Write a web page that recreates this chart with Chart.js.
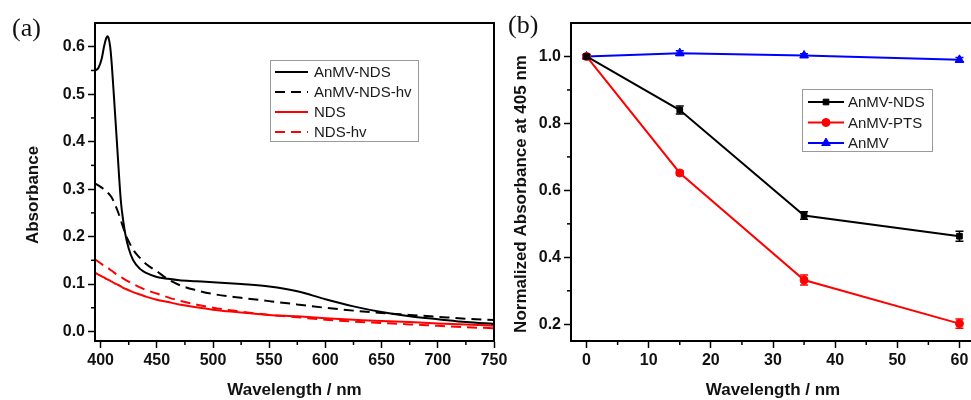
<!DOCTYPE html>
<html>
<head>
<meta charset="utf-8">
<script src="https://cdn.jsdelivr.net/npm/chart.js@4.4.0/dist/chart.umd.min.js"></script>
<style>
  html, body { margin: 0; padding: 0; background: #fff; width: 971px; height: 400px; overflow: hidden; }
  .painel { position: absolute; top: 0; height: 400px; }
  #painelA { left: 0; width: 520px; }
  #painelB { left: 490px; width: 510px; }
  .rotulo { position: absolute; font-family: "Liberation Serif", "Times New Roman", serif; font-size: 26px; color: #111; line-height: 1; }
</style>
</head>
<body>
<div class="painel" id="painelA"><canvas id="graficoA" width="520" height="400"></canvas></div>
<div class="painel" id="painelB"><canvas id="graficoB" width="510" height="400"></canvas></div>
<div class="rotulo" style="left:12px; top:15px">(a)</div>
<div class="rotulo" style="left:508px; top:12px">(b)</div>

<script>
// ---- painel (a): espectros ----
const comprimentoOnda = [395, 398, 401, 403, 405, 406, 407, 408.5, 410, 412, 415, 418, 420, 422, 425, 429, 435, 441, 450, 460, 470, 485, 500, 525, 550, 575, 600, 625, 650, 675, 700, 725, 750];
const absAnmvNds   = [0.550, 0.555, 0.575, 0.600, 0.618, 0.622, 0.619, 0.600, 0.560, 0.490, 0.380, 0.275, 0.235, 0.205, 0.175, 0.150, 0.132, 0.123, 0.115, 0.111, 0.108, 0.106, 0.104, 0.100, 0.095, 0.085, 0.068, 0.053, 0.041, 0.032, 0.026, 0.020, 0.016];
const absAnmvNdsHv = [0.312, 0.308, 0.303, 0.300, 0.296, 0.294, 0.291, 0.287, 0.282, 0.272, 0.255, 0.234, 0.220, 0.206, 0.190, 0.172, 0.155, 0.141, 0.127, 0.110, 0.098, 0.087, 0.079, 0.071, 0.064, 0.057, 0.050, 0.044, 0.039, 0.035, 0.031, 0.027, 0.024];
const absNds       = [0.124, 0.120, 0.116, 0.114, 0.111, 0.110, 0.109, 0.107, 0.105, 0.102, 0.099, 0.095, 0.092, 0.090, 0.087, 0.083, 0.078, 0.073, 0.067, 0.062, 0.057, 0.051, 0.046, 0.040, 0.035, 0.032, 0.028, 0.025, 0.022, 0.020, 0.017, 0.015, 0.012];
const absNdsHv     = [0.152, 0.147, 0.142, 0.139, 0.136, 0.134, 0.133, 0.130, 0.128, 0.124, 0.119, 0.115, 0.112, 0.109, 0.105, 0.100, 0.093, 0.087, 0.080, 0.072, 0.065, 0.057, 0.050, 0.042, 0.035, 0.030, 0.025, 0.021, 0.018, 0.015, 0.012, 0.009, 0.007];
const rotulosA = ["AnMV-NDS", "AnMV-NDS-hv", "NDS", "NDS-hv"];

// ---- painel (b): absorbância normalizada ----
const tempos = [0, 15, 35, 60];
const normAnmvNds = [1.0, 0.840, 0.525, 0.463];
const erroAnmvNds = [0.006, 0.012, 0.011, 0.015];
const normAnmvPts = [1.0, 0.652, 0.332, 0.202];
const erroAnmvPts = [0.006, 0.006, 0.015, 0.014];
const normAnmv    = [1.0, 1.010, 1.003, 0.990];
const erroAnmv    = [0.004, 0.007, 0.005, 0.007];
const rotulosB = ["AnMV-NDS", "AnMV-PTS", "AnMV"];

const fonteEixo = '"Liberation Sans", Arial, sans-serif';
const pares = (xs, ys) => xs.map((x, i) => ({ x, y: ys[i] }));

// moldura completa (estilo Origin)
const pluginMoldura = {
  id: 'moldura',
  afterDraw(chart) {
    const { ctx, chartArea: a } = chart;
    ctx.save();
    ctx.strokeStyle = '#000';
    ctx.lineWidth = 2;
    ctx.strokeRect(a.left, a.top, a.right - a.left, a.bottom - a.top);
    ctx.restore();
  }
};

// ticks menores entre os maiores
const pluginTicksMenores = {
  id: 'ticksMenores',
  afterDraw(chart, args, o) {
    const ctx = chart.ctx;
    ctx.save();
    ctx.strokeStyle = '#000';
    ctx.lineWidth = 1.5;
    ['x', 'y'].forEach(id => {
      const s = chart.scales[id];
      const t = s.ticks.map(k => k.value);
      for (let i = 0; i < t.length - 1; i++) {
        const p = s.getPixelForValue((t[i] + t[i + 1]) / 2);
        ctx.beginPath();
        if (id === 'x') { ctx.moveTo(p, s.top); ctx.lineTo(p, s.top + o.tamanho); }
        else { ctx.moveTo(s.right, p); ctx.lineTo(s.right - o.tamanho, p); }
        ctx.stroke();
      }
    });
    ctx.restore();
  }
};

// barras de erro
const pluginBarrasErro = {
  id: 'barrasErro',
  beforeDatasetsDraw(chart) {
    const { ctx, scales: { x, y } } = chart;
    chart.data.datasets.forEach(ds => {
      if (!ds.erros) return;
      ctx.save();
      ctx.strokeStyle = ds.borderColor;
      ctx.lineWidth = 1.5;
      ds.data.forEach((d, j) => {
        const px = x.getPixelForValue(d.x);
        const y0 = y.getPixelForValue(d.y - ds.erros[j]);
        const y1 = y.getPixelForValue(d.y + ds.erros[j]);
        ctx.beginPath();
        ctx.moveTo(px, y0); ctx.lineTo(px, y1);
        ctx.moveTo(px - 4, y0); ctx.lineTo(px + 4, y0);
        ctx.moveTo(px - 4, y1); ctx.lineTo(px + 4, y1);
        ctx.stroke();
      });
      ctx.restore();
    });
  }
};

// legenda dentro da área do gráfico
const pluginLegenda = {
  id: 'legendaInterna',
  afterDraw(chart, args, o) {
    const ctx = chart.ctx;
    ctx.save();
    ctx.fillStyle = '#fff';
    ctx.fillRect(o.x, o.y, o.w, o.h);
    ctx.strokeStyle = '#9a9a9a';
    ctx.lineWidth = 1;
    ctx.strokeRect(o.x + 0.5, o.y + 0.5, o.w, o.h);
    ctx.font = '15px ' + fonteEixo;
    ctx.textBaseline = 'middle';
    chart.data.datasets.forEach((ds, i) => {
      const yy = o.primeiraLinha + i * o.passo;
      ctx.strokeStyle = ds.borderColor;
      ctx.lineWidth = ds.borderWidth;
      ctx.setLineDash(ds.borderDash || []);
      ctx.beginPath();
      ctx.moveTo(o.linhaX0, yy);
      ctx.lineTo(o.linhaX1, yy);
      ctx.stroke();
      ctx.setLineDash([]);
      if (ds.pointRadius > 0) {
        ctx.fillStyle = ds.backgroundColor;
        ctx.lineWidth = 1;
        Chart.helpers.drawPoint(ctx, { pointStyle: ds.pointStyle, radius: ds.pointRadius, borderWidth: 1, rotation: 0 }, (o.linhaX0 + o.linhaX1) / 2, yy);
      }
      ctx.fillStyle = '#1a1a1a';
      ctx.fillText(ds.label, o.textoX, yy + 1);
    });
    ctx.restore();
  }
};

// títulos dos eixos
const pluginTitulos = {
  id: 'titulosEixos',
  afterDraw(chart, args, o) {
    const { ctx, chartArea: a } = chart;
    ctx.save();
    ctx.fillStyle = '#111';
    ctx.font = 'bold 17px ' + fonteEixo;
    ctx.textAlign = 'center';
    ctx.textBaseline = 'middle';
    ctx.fillText(o.x, (a.left + a.right) / 2, o.yTituloX);
    ctx.translate(o.xTituloY, (a.top + a.bottom) / 2 + o.desvioY);
    ctx.rotate(-Math.PI / 2);
    ctx.fillText(o.y, 0, 0);
    ctx.restore();
  }
};

function eixo(min, max, passo, casas, tamanho) {
  return {
    type: 'linear',
    min, max,
    border: { display: true, color: '#000', width: 2 },
    grid: { drawOnChartArea: false, drawTicks: true, tickLength: 7, tickColor: '#000', tickWidth: 1.5 },
    ticks: {
      stepSize: passo,
      includeBounds: false,
      autoSkip: false,
      maxRotation: 0,
      padding: 3,
      color: '#111',
      font: { family: fonteEixo, size: 16, weight: 'bold' },
      callback: v => Number(v).toFixed(casas)
    },
    afterFit(s) {
      if (s.isHorizontal()) { s.height = tamanho; s.paddingLeft = 0; s.paddingRight = 0; }
      else { s.width = tamanho; s.paddingTop = 0; s.paddingBottom = 0; }
    }
  };
}

const linhaA = (label, ys, cor, tracejado) => ({
  label,
  data: pares(comprimentoOnda, ys),
  borderColor: cor,
  backgroundColor: cor,
  borderWidth: 2,
  borderDash: tracejado ? [10, 6] : [],
  pointRadius: 0,
  cubicInterpolationMode: 'monotone'
});

new Chart(document.getElementById('graficoA'), {
  type: 'line',
  data: {
    datasets: [
      linhaA(rotulosA[0], absAnmvNds, '#000', false),
      linhaA(rotulosA[1], absAnmvNdsHv, '#000', true),
      linhaA(rotulosA[2], absNds, '#ff0000', false),
      linhaA(rotulosA[3], absNdsHv, '#ff0000', true)
    ]
  },
  options: {
    responsive: false,
    animation: false,
    layout: { padding: { top: 23, right: 26, left: 0, bottom: 0 } },
    scales: {
      x: eixo(395, 750, 50, 0, 59),
      y: eixo(-0.02, 0.65, 0.1, 1, 95)
    },
    plugins: {
      legend: { display: false },
      tooltip: { enabled: false },
      ticksMenores: { tamanho: 4 },
      legendaInterna: { x: 270, y: 60, w: 148, h: 81, primeiraLinha: 72, passo: 20, linhaX0: 275, linhaX1: 308, textoX: 314 },
      titulosEixos: { x: 'Wavelength / nm', y: 'Absorbance', yTituloX: 390, xTituloY: 33, desvioY: 13 }
    }
  },
  plugins: [pluginMoldura, pluginTicksMenores, pluginLegenda, pluginTitulos]
});

const linhaB = (label, ys, erros, cor, estilo, raio) => ({
  label,
  data: pares(tempos, ys),
  erros,
  borderColor: cor,
  backgroundColor: cor,
  borderWidth: 2,
  pointStyle: estilo,
  pointRadius: raio,
  pointBorderWidth: 1,
  tension: 0
});

new Chart(document.getElementById('graficoB'), {
  type: 'line',
  data: {
    datasets: [
      linhaB(rotulosB[0], normAnmvNds, erroAnmvNds, '#000', 'rect', 4),
      linhaB(rotulosB[1], normAnmvPts, erroAnmvPts, '#ff0000', 'circle', 4),
      linhaB(rotulosB[2], normAnmv, erroAnmv, '#0000ff', 'triangle', 5)
    ]
  },
  options: {
    responsive: false,
    animation: false,
    layout: { padding: { top: 23, right: 25, left: 0, bottom: 0 } },
    scales: {
      x: eixo(-2.5, 62.5, 10, 0, 59),
      y: eixo(0.15, 1.1, 0.2, 1, 81)
    },
    plugins: {
      legend: { display: false },
      tooltip: { enabled: false },
      ticksMenores: { tamanho: 4 },
      legendaInterna: { x: 312, y: 89, w: 130, h: 62, primeiraLinha: 102, passo: 20.5, linhaX0: 318, linhaX1: 354, textoX: 358 },
      titulosEixos: { x: 'Wavelength / nm', y: 'Normalized Absorbance at 405 nm', yTituloX: 390, xTituloY: 31, desvioY: 12 }
    }
  },
  plugins: [pluginMoldura, pluginTicksMenores, pluginBarrasErro, pluginLegenda, pluginTitulos]
});
</script>
</body>
</html>
